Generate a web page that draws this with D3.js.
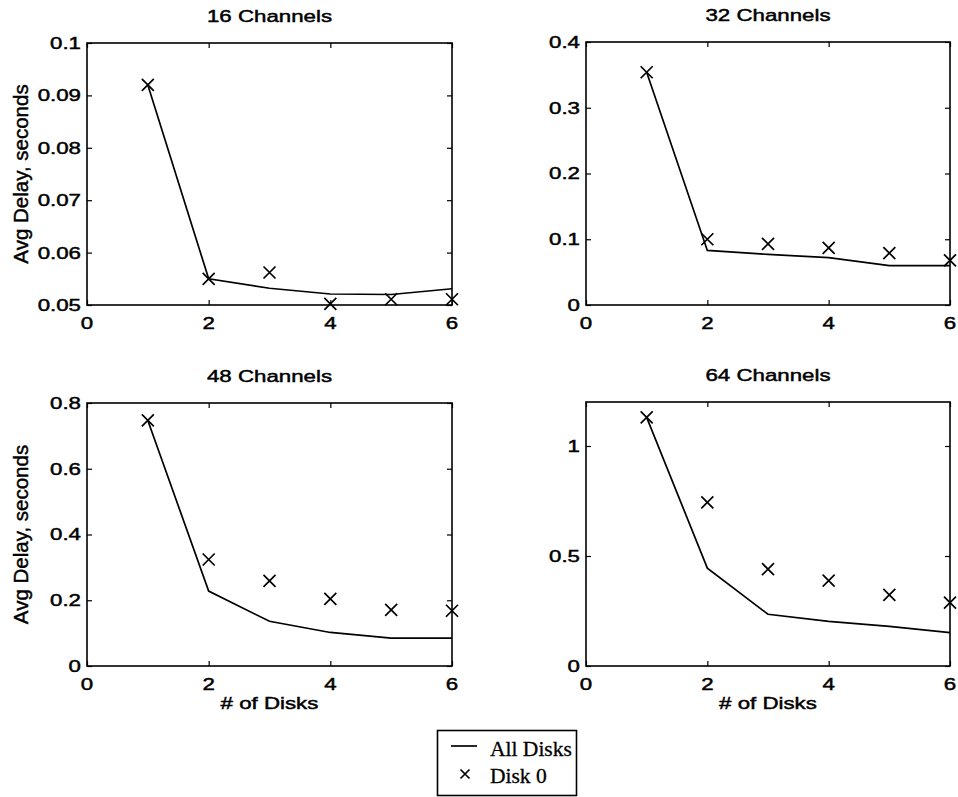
<!DOCTYPE html>
<html>
<head>
<meta charset="utf-8">
<script src="https://cdn.jsdelivr.net/npm/d3@7"></script>
<style>
  html, body { margin: 0; padding: 0; background: #fff; }
  svg { display: block; }
</style>
</head>
<body>
<svg id="chart" width="958" height="797"></svg>
<script>
// ---------- data ----------
const diskCounts = [1, 2, 3, 4, 5, 6];
const panelTitles = ["16 Channels", "32 Channels", "48 Channels", "64 Channels"];

const allDisks16 = [0.092, 0.055, 0.0532, 0.0521, 0.0520, 0.0531];
const disk0_16   = [0.092, 0.055, 0.0562, 0.0502, 0.0511, 0.0511];

const allDisks32 = [0.354, 0.083, 0.077, 0.072, 0.060, 0.060];
const disk0_32   = [0.354, 0.100, 0.093, 0.087, 0.079, 0.068];

const allDisks48 = [0.747, 0.228, 0.136, 0.102, 0.085, 0.085];
const disk0_48   = [0.747, 0.324, 0.259, 0.204, 0.171, 0.168];

const allDisks64 = [1.13, 0.445, 0.235, 0.203, 0.180, 0.152];
const disk0_64   = [1.13, 0.744, 0.440, 0.388, 0.323, 0.288];

const xTicks = [0, 2, 4, 6];
const yTicks16 = [0.05, 0.06, 0.07, 0.08, 0.09, 0.1];
const yTicks32 = [0, 0.1, 0.2, 0.3, 0.4];
const yTicks48 = [0, 0.2, 0.4, 0.6, 0.8];
const yTicks64 = [0, 0.5, 1];
const yDomains = [[0.05, 0.1], [0, 0.4], [0, 0.8], [0, 1.2]];
const yLabel = "Avg Delay, seconds";
const xLabel = "# of Disks";
const legendLabels = ["All Disks", "Disk 0"];

// ---------- layout ----------
const panels = [
  { x0: 87,  x1: 452, y0: 43,  y1: 305, line: allDisks16, pts: disk0_16, ticks: yTicks16, left: true,  bottom: false },
  { x0: 586, x1: 950, y0: 42,  y1: 305, line: allDisks32, pts: disk0_32, ticks: yTicks32, left: false, bottom: false },
  { x0: 87,  x1: 452, y0: 403, y1: 666, line: allDisks48, pts: disk0_48, ticks: yTicks48, left: true,  bottom: true },
  { x0: 586, x1: 950, y0: 402, y1: 666, line: allDisks64, pts: disk0_64, ticks: yTicks64, left: false, bottom: true }
];

const svg = d3.select("#chart");
const SANS = "'Liberation Sans', Arial, Helvetica, sans-serif";
const FS = 16.5, SX = 1.35, TL = 5;
const fmt = d3.format("~g");

function stretchedText(g, x, y, txt, anchor, dy) {
  g.append("text")
    .attr("transform", `translate(${x},${y}) scale(${SX},1)`)
    .attr("text-anchor", anchor)
    .attr("dy", dy || 0)
    .attr("font-family", SANS)
    .attr("font-size", FS)
    .attr("fill", "#000")
    .attr("stroke", "#000").attr("stroke-width", 0.45)
    .text(txt);
}

function xMark(g, cx, cy, r) {
  g.append("path")
    .attr("d", `M${cx - r},${cy - r}L${cx + r},${cy + r}M${cx - r},${cy + r}L${cx + r},${cy - r}`)
    .attr("stroke", "#000").attr("stroke-width", 1.7).attr("fill", "none");
}

panels.forEach((p, i) => {
  const x = d3.scaleLinear().domain([0, 6]).range([p.x0, p.x1]);
  const y = d3.scaleLinear().domain(yDomains[i]).range([p.y1, p.y0]);
  const g = svg.append("g");

  // frame
  g.append("rect")
    .attr("x", p.x0).attr("y", p.y0)
    .attr("width", p.x1 - p.x0).attr("height", p.y1 - p.y0)
    .attr("fill", "none").attr("stroke", "#000").attr("stroke-width", 1.6);

  // inward ticks on all four sides
  const axB = d3.axisTop(x).tickValues(xTicks).tickSize(TL).tickFormat("");
  const axT = d3.axisBottom(x).tickValues(xTicks).tickSize(TL).tickFormat("");
  const axL = d3.axisRight(y).tickValues(p.ticks).tickSize(TL).tickFormat("");
  const axR = d3.axisLeft(y).tickValues(p.ticks).tickSize(TL).tickFormat("");
  [[axB, `translate(0,${p.y1})`], [axT, `translate(0,${p.y0})`],
   [axL, `translate(${p.x0},0)`], [axR, `translate(${p.x1},0)`]].forEach(([ax, tr]) => {
    const a = g.append("g").attr("transform", tr).call(ax);
    a.select(".domain").remove();
    a.selectAll("line").attr("stroke", "#000").attr("stroke-width", 1.2);
  });

  // tick labels
  xTicks.forEach(v => stretchedText(g, x(v), p.y1 + 24, fmt(v), "middle"));
  p.ticks.forEach(v => stretchedText(g, p.x0 - 6, y(v), fmt(v), "end", "0.36em"));

  // title
  stretchedText(g, (p.x0 + p.x1) / 2, p.y0 - 21, panelTitles[i], "middle");

  // y label
  if (p.left) {
    g.append("text")
      .attr("transform", `translate(28,${(p.y0 + p.y1) / 2}) rotate(-90)`)
      .attr("text-anchor", "middle")
      .attr("font-family", SANS).attr("font-size", 20.5)
      .attr("stroke", "#000").attr("stroke-width", 0.45)
      .text(yLabel);
  }
  if (p.bottom) {
    stretchedText(g, (p.x0 + p.x1) / 2, p.y1 + 43, xLabel, "middle");
  }

  // line (All Disks)
  const lineGen = d3.line().x((d, j) => x(diskCounts[j])).y(d => y(d));
  g.append("path").datum(p.line)
    .attr("d", lineGen)
    .attr("fill", "none").attr("stroke", "#000").attr("stroke-width", 1.7);

  // markers (Disk 0)
  p.pts.forEach((v, j) => xMark(g, x(diskCounts[j]), y(v), 6));
});

// legend
const SERIF = "'Liberation Serif', 'Times New Roman', Times, serif";
const lg = svg.append("g");
lg.append("rect").attr("x", 437.5).attr("y", 730.5).attr("width", 139).attr("height", 65)
  .attr("fill", "#fff").attr("stroke", "#000").attr("stroke-width", 1.6);
lg.append("line").attr("x1", 451).attr("x2", 477).attr("y1", 746).attr("y2", 746)
  .attr("stroke", "#000").attr("stroke-width", 1.7);
xMark(lg, 465, 774, 4.5);
lg.append("text").attr("x", 490).attr("y", 756)
  .attr("font-family", SERIF).attr("font-size", 21.5)
  .attr("stroke", "#000").attr("stroke-width", 0.3).text(legendLabels[0]);
lg.append("text").attr("x", 490).attr("y", 783)
  .attr("font-family", SERIF).attr("font-size", 21.5)
  .attr("stroke", "#000").attr("stroke-width", 0.3).text(legendLabels[1]);
</script>
</body>
</html>
